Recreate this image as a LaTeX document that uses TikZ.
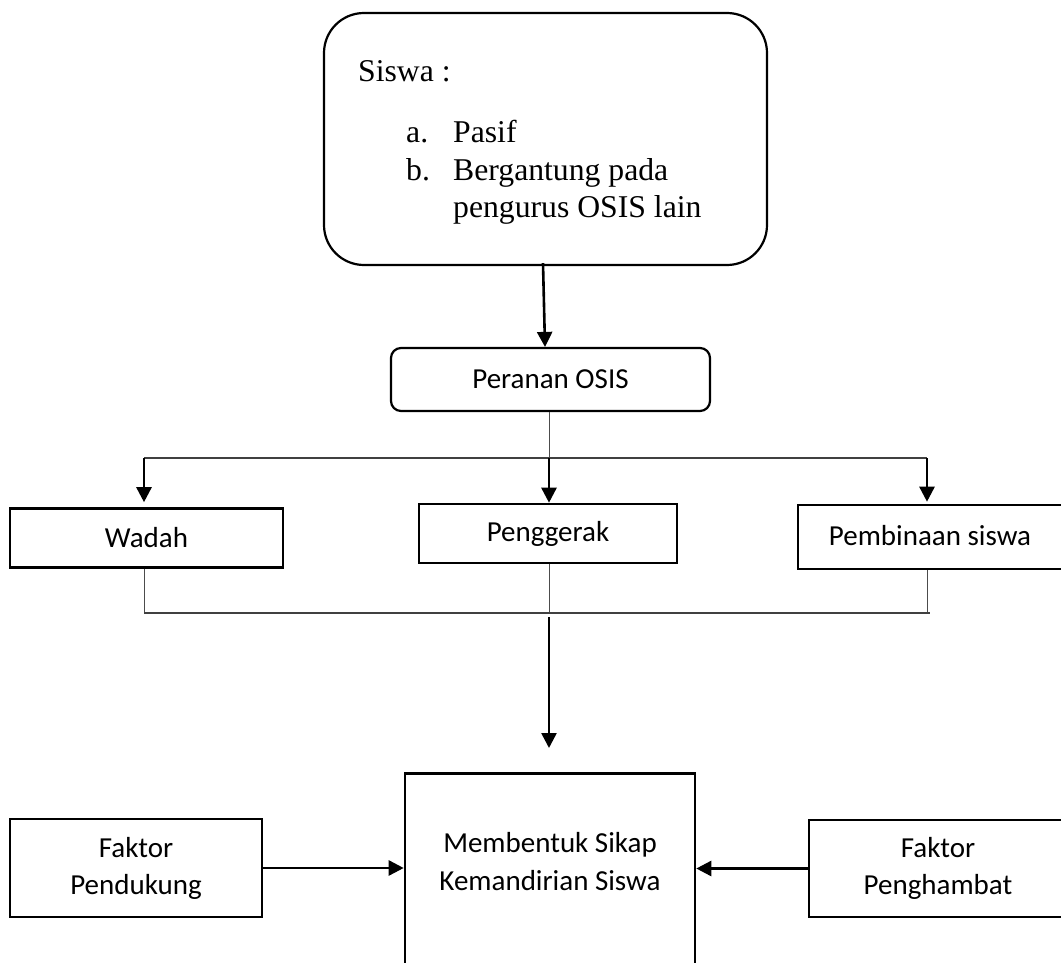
\documentclass[tikz,border=0pt]{standalone}
\usepackage{fontspec}
\setmainfont{Liberation Serif}
\newfontfamily\calfont{Carlito}
\usetikzlibrary{arrows.meta}
\begin{document}
\begin{tikzpicture}[x=1pt,y=-1pt,
  siswabox/.style={draw, line width=2.2pt, rounded corners=40pt, inner sep=0pt},
  rbox/.style={draw, line width=2.2pt, rounded corners=10pt, inner sep=0pt, font=\calfont\fontsize{29}{37}\selectfont},
  sbox/.style={draw, line width=2.6pt, inner sep=0pt, align=center, font=\calfont\fontsize{29}{37}\selectfont},
  stxt/.style={anchor=base west, inner sep=0pt, font=\fontsize{31.7}{38}\selectfont},
  ctxt/.style={align=center, inner sep=0pt, font=\calfont\fontsize{29}{38}\selectfont},
  thin/.style={line width=1pt, draw=black!70},
  thinh/.style={line width=1.6pt, draw=black!75},
  arr/.style={line width=2.6pt, -{Triangle[width=15pt,length=15pt]}}]
\useasboundingbox (0,0) rectangle (1061,963);
\clip (0,0) rectangle (1061,963);
% top box
\node[siswabox, minimum width=443pt, minimum height=252pt] (siswa) at (545.5,139) {};
\node[stxt] (t0) at (358,82) {Siswa :};
\node[stxt] (ta) at (406,143) {a.};
\node[stxt] (tpa) at (453,143) {Pasif};
\node[stxt] (tb) at (406,181) {b.};
\node[stxt] (tpb) at (453,181) {Bergantung pada};
\node[stxt] (tpc) at (453,218) {pengurus OSIS lain};
% peranan
\node[rbox, minimum width=319pt, minimum height=63pt] (peranan) at (550.5,379.5) {Peranan OSIS};
\draw[arr] ([xshift=-2.5pt,yshift=3pt]siswa.south) -- ([xshift=-5.5pt]peranan.north);
% level boxes
\node[sbox, minimum width=273pt, minimum height=59pt] (wadah) at (146.5,538) {Wadah};
\node[sbox, minimum width=258pt, minimum height=59pt] (penggerak) at (548,533.5) {\raisebox{4pt}{Penggerak}};
\node[sbox, minimum width=264pt, minimum height=64pt] (pembinaan) at (930,537) {\raisebox{3pt}{Pembinaan siswa}};
\coordinate (tl) at (144,458);
\coordinate (tm) at (549,458);
\coordinate (tr) at (927,458);
\draw[thin] (peranan.south -| tm) -- (tm);
\draw[thinh] (tl) -- (tr);
\draw[arr] (tl) -- ([yshift=5pt]tl |- wadah.north);
\draw[arr] (tm) -- (tm |- penggerak.north);
\draw[arr] (tr) -- ([yshift=2pt]tr |- pembinaan.north);
\coordinate (bl) at (144,613);
\coordinate (bm) at (549,613);
\coordinate (br) at (927,613);
\coordinate (be) at (930,613);
\draw[thin] (bl |- wadah.south) -- (bl);
\draw[thin] (bm |- penggerak.south) -- (bm);
\draw[thin] (br |- pembinaan.south) -- (br);
\draw[thinh] (bl) -- (be);
% bottom
\node[draw, line width=2.6pt, minimum width=290pt, minimum height=240pt, anchor=north] (mk) at (550,772) {};
\node[ctxt] (mktext) at (550,862) {Membentuk Sikap\\Kemandirian Siswa};
\coordinate (bs) at (549,617);
\draw[arr] (bs) -- ([yshift=24pt]bs |- mk.north);
\node[sbox, minimum width=252pt, minimum height=98pt, font=\calfont\fontsize{29}{37}\selectfont] (fp) at (136,868) {Faktor\\Pendukung};
\node[sbox, minimum width=258pt, minimum height=97pt, font=\calfont\fontsize{29}{37}\selectfont] (fh) at (938,868.5) {Faktor\\Penghambat};
\draw[arr] (fp.east) -- (fp.east -| mk.west);
\draw[arr] (fh.west) -- (fh.west -| mk.east);
\end{tikzpicture}
\end{document}
